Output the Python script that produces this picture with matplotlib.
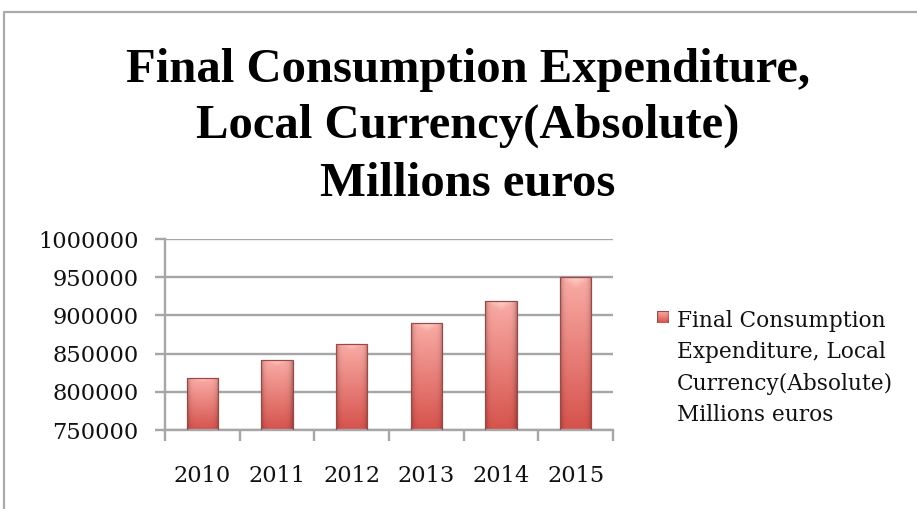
import numpy as np
import matplotlib
matplotlib.use("Agg")
import matplotlib.pyplot as plt
from matplotlib.patches import Rectangle
from matplotlib.lines import Line2D

years = ["2010", "2011", "2012", "2013", "2014", "2015"]
expenditure = [817500, 841500, 863000, 889500, 918500, 950000]
y_ticks = [750000, 800000, 850000, 900000, 950000, 1000000]
title_lines = ["Final Consumption Expenditure,", "Local Currency(Absolute)", "Millions euros"]
legend_lines = ["Final Consumption", "Expenditure, Local", "Currency(Absolute)", "Millions euros"]

W, H = 917, 509
fig = plt.figure(figsize=(W / 100, H / 100), dpi=100)
fig.patch.set_facecolor("white")

def fx(px):
    return px / W

def fy(py):
    return 1 - py / H

ax = fig.add_axes([fx(165), fy(430), fx(613) - fx(165), fy(239) - fy(430)])
ax.set_ylim(y_ticks[0], y_ticks[-1])
ax.set_xlim(-0.5, len(years) - 0.5)

grid_col = "#a6a6a6"
ax.set_yticks(y_ticks)
ax.set_yticklabels([str(v) for v in y_ticks])
ax.yaxis.grid(True, color=grid_col, linewidth=1.7)
ax.set_axisbelow(True)
ax.set_xticks(range(len(years)))
ax.set_xticklabels(years)
ax.set_xticks(np.arange(-0.5, len(years)), minor=True)
ax.tick_params(axis="x", which="major", length=0, pad=25)
ax.tick_params(axis="x", which="minor", length=8, width=1.7, color=grid_col)
ax.tick_params(axis="y", length=7, width=1.7, color=grid_col, pad=12)
for lab in ax.get_xticklabels() + ax.get_yticklabels():
    lab.set_fontfamily("DejaVu Serif")
    lab.set_fontsize(16.2)
    lab.set_color("#111111")
for side in ["top", "right"]:
    ax.spines[side].set_visible(False)
for side in ["left", "bottom"]:
    ax.spines[side].set_color(grid_col)
    ax.spines[side].set_linewidth(1.7)

# Shaded bar texture: light top, deeper red bottom, darker side edges
def bar_texture(n=200, m=60):
    t = np.linspace(0, 1, n)[:, None]          # 0 = top, 1 = bottom
    s = np.linspace(0, 1, m)[None, :]
    top = np.array([250, 172, 166]) / 255
    bot = np.array([214, 82, 76]) / 255
    base = top[None, None, :] * (1 - t[..., None]) + bot[None, None, :] * t[..., None]
    edge = 1 - 0.28 * (np.abs(s - 0.5) * 2) ** 6
    img = base * edge[..., None]
    # bevel highlight at top
    hl = np.clip(1 - t / 0.08, 0, 1) * np.clip(1 - np.abs(s - 0.5) * 2 / (1 - t / 0.08 + 1e-6) * 0.9, 0, 1)
    img = img + (1 - img) * 0.45 * hl[..., None]
    return np.clip(img, 0, 1)

tex = bar_texture()
bars = ax.bar(range(len(years)), expenditure, width=0.42, bottom=0,
              color="none", edgecolor="#9a4a46", linewidth=0.9, zorder=3)
for b in bars:
    x0, w, h = b.get_x(), b.get_width(), b.get_height()
    im = ax.imshow(tex, extent=[x0, x0 + w, y_ticks[0], h], aspect="auto",
                   interpolation="bilinear", zorder=2.5)
    im.set_clip_path(b)
ax.set_xlim(-0.5, len(years) - 0.5)
ax.set_ylim(y_ticks[0], y_ticks[-1])

# Title, one line per row
title_base = [82, 138, 196]
for txt, yb in zip(title_lines, title_base):
    fig.text(fx(468), fy(yb), txt, ha="center", va="baseline",
             fontfamily="Liberation Serif", fontweight="bold", fontsize=35, color="black")

# Legend
sw = fig.add_axes([fx(657), fy(323), fx(12), fy(311) - fy(323)])
sw.imshow(tex, aspect="auto", extent=[0, 1, 0, 1])
sw.set_axis_off()
sw.add_patch(Rectangle((0, 0), 1, 1, fill=False, edgecolor="#9a4a46", linewidth=0.8))
leg_base = [327, 358, 390, 421]
for txt, yb in zip(legend_lines, leg_base):
    fig.text(fx(677), fy(yb), txt, ha="left", va="baseline",
             fontfamily="DejaVu Serif", fontsize=15.6, color="#111111")

# Chart frame
fig.add_artist(Line2D([fx(4), fx(4), 1.0], [0.0, fy(12), fy(12)],
                      color="#aaaaaa", linewidth=1.6, transform=fig.transFigure))

fig.savefig("out.png", dpi=100, facecolor="white")
